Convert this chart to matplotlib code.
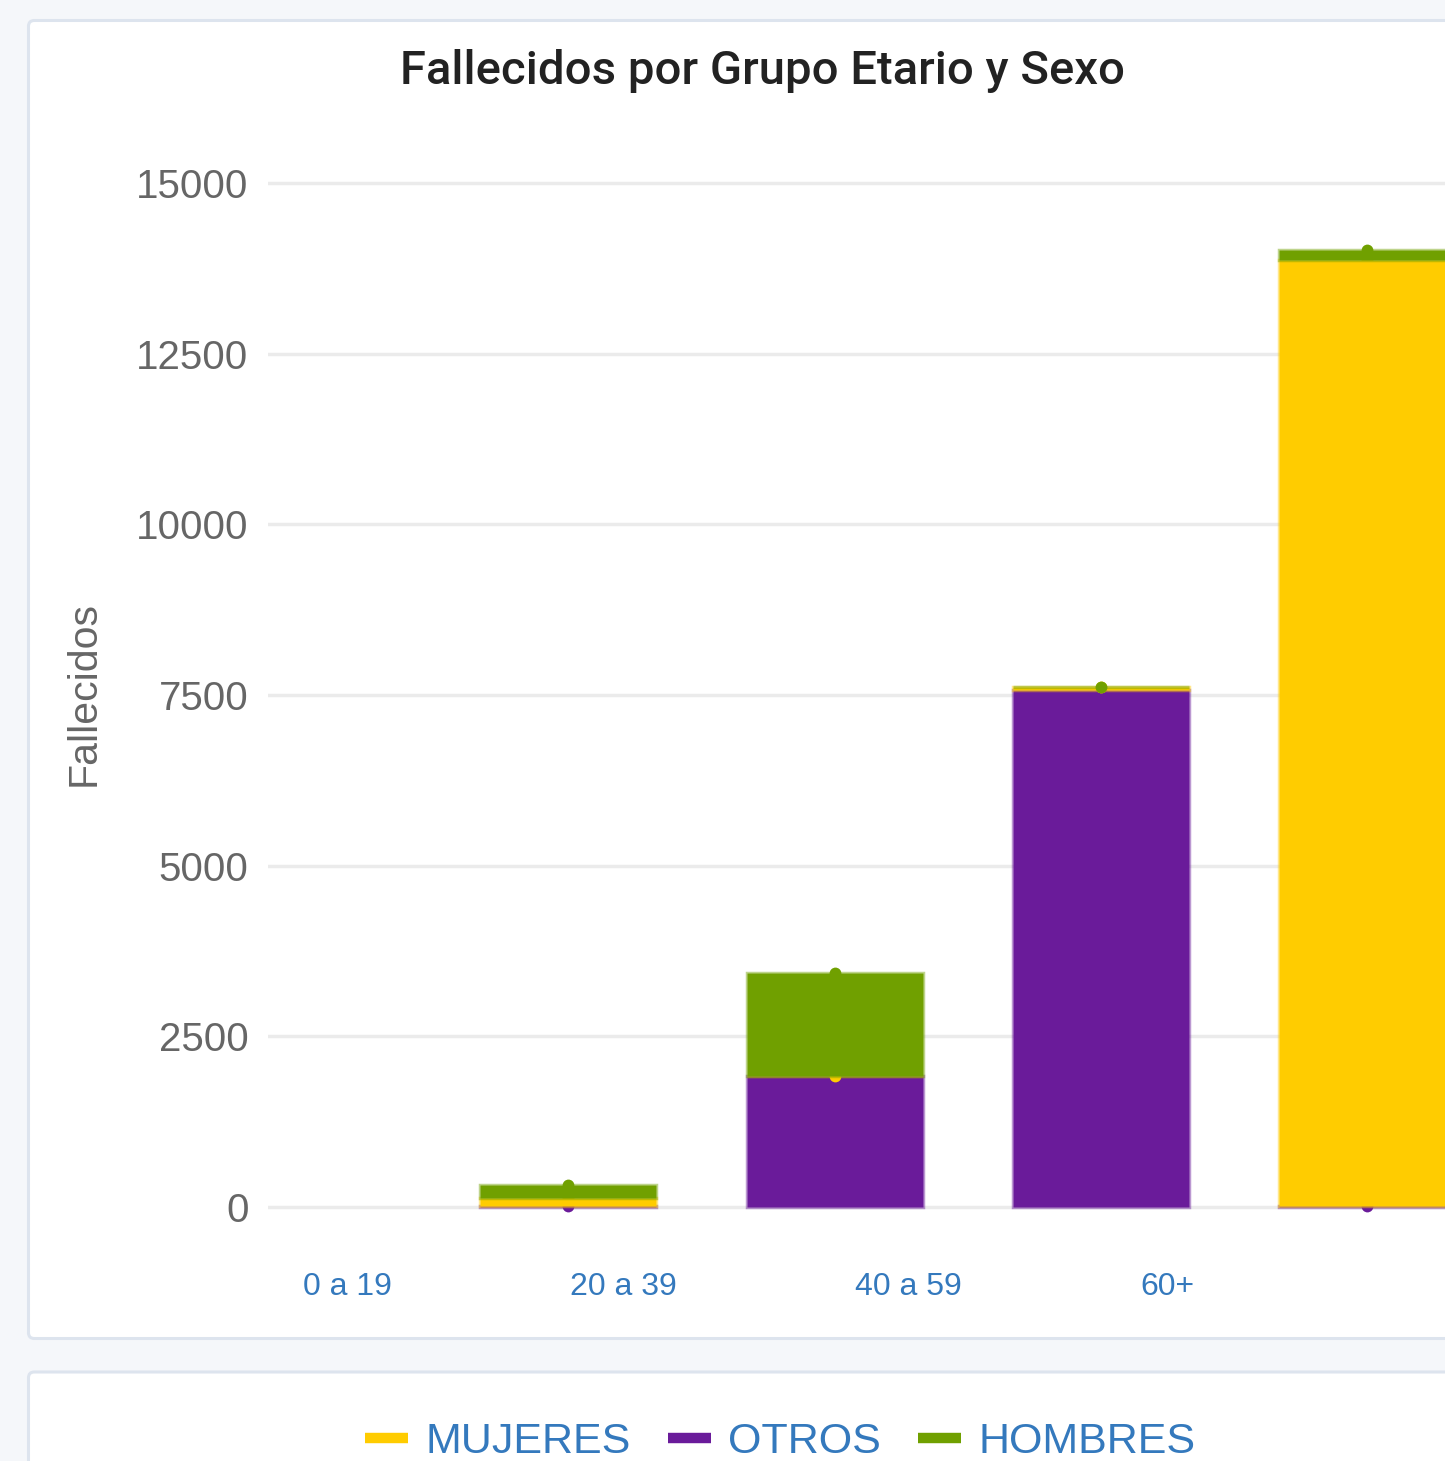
import matplotlib
matplotlib.use("Agg")
import matplotlib.pyplot as plt
from matplotlib import font_manager as fm
from matplotlib.patches import FancyBboxPatch
from matplotlib.lines import Line2D
from matplotlib.colors import to_rgba

# ---------------- data ----------------
title = "Fallecidos por Grupo Etario y Sexo"
y_label = "Fallecidos"
x_labels = ["0 a 19", "20 a 39", "40 a 59", "60+"]
series_names = ["MUJERES", "OTROS", "HOMBRES"]
bar_slots = [1, 2, 3, 4]
otros = [20, 1915, 7570, 8]
mujeres = [110, 5, 40, 13860]
hombres = [190, 1505, 5, 150]
y_ticks = [0, 2500, 5000, 7500, 10000, 12500, 15000]

# ---------------- style ----------------
C_MUJ = "#ffcc00"
C_OTR = "#6a1b9a"
C_HOM = "#70a000"
BG = "#f5f7fa"
CARD_EDGE = "#dde4ee"
GRID = "#ebebeb"
TICK_GRAY = "#666666"
BLUE = "#3479bd"

names = {f.name for f in fm.fontManager.ttflist}
NARROW = "Liberation Sans Narrow" if "Liberation Sans Narrow" in names else "Liberation Sans"
TITLE_FONT = "Roboto" if "Roboto" in names else "DejaVu Sans"

W, H = 1445, 1461
fig = plt.figure(figsize=(W / 100, H / 100), dpi=100)
fig.patch.set_facecolor(BG)

def fx(px):
    return px / W

def fy(py):
    return 1 - py / H

# cards
card1 = FancyBboxPatch((fx(28.5), fy(1338.5)), fx(1500) - fx(28.5), fy(20.5) - fy(1338.5),
                       boxstyle="round,pad=0,rounding_size=0.004", transform=fig.transFigure,
                       facecolor="white", edgecolor=CARD_EDGE, linewidth=2.2, zorder=-5)
card2 = FancyBboxPatch((fx(28.5), fy(1520)), fx(1500) - fx(28.5), fy(1372) - fy(1520),
                       boxstyle="round,pad=0,rounding_size=0.004", transform=fig.transFigure,
                       facecolor="white", edgecolor=CARD_EDGE, linewidth=2.2, zorder=-5)
fig.patches.extend([card1, card2])

# axes geometry (pixel mapping)
x0_px, slot_px = 302.0, 266.3
ax_left_px, ax_right_px = 268.0, 1530.0
ax_top_px, ax_bot_px = 160.0, 1230.0
zero_px, top_px = 1207.0, 183.0
upp = 15000 / (zero_px - top_px)

ax = fig.add_axes([fx(ax_left_px), fy(ax_bot_px),
                   fx(ax_right_px) - fx(ax_left_px), fy(ax_top_px) - fy(ax_bot_px)])
ax.set_zorder(2)
ax.set_facecolor("none")
ax.set_xlim((ax_left_px - x0_px) / slot_px, (ax_right_px - x0_px) / slot_px)
ax.set_ylim(-(ax_bot_px - zero_px) * upp, 15000 + (top_px - ax_top_px) * upp)
for s in ax.spines.values():
    s.set_visible(False)

ax.set_yticks(y_ticks)
ax.set_yticklabels([str(v) for v in y_ticks], fontsize=29, color=TICK_GRAY,
                   fontfamily="Liberation Sans")
ax.tick_params(axis="y", length=0, pad=14)
ax.grid(axis="y", color=GRID, linewidth=2.5, zorder=0)
ax.set_axisbelow(True)

tick_pos = [(p - x0_px) / slot_px for p in (347.5, 623, 908, 1167)]
ax.set_xticks(tick_pos)
ax.set_xticklabels(x_labels, fontsize=23, color=BLUE, fontfamily=NARROW)
ax.tick_params(axis="x", length=0, pad=30)

ax.set_ylabel(y_label, fontsize=29.5, color=TICK_GRAY, fontfamily="Liberation Sans", va="center")
ax.yaxis.set_label_coords((84 - ax_left_px) / (ax_right_px - ax_left_px),
                          (ax_bot_px - 694) / (ax_bot_px - ax_top_px))

width = 176 / slot_px
stack = [(otros, C_OTR), (mujeres, C_MUJ), (hombres, C_HOM)]
bottom = [0] * len(bar_slots)
z = 2
for vals, col in stack:
    ax.bar(bar_slots, vals, width=width, bottom=bottom, color=col,
           edgecolor=to_rgba(col, 0.45), linewidth=2.5, zorder=z)
    tops = [b + v for b, v in zip(bottom, vals)]
    ax.plot(bar_slots, tops, linestyle="none", marker="o", markersize=8.5,
            color=col, markeredgewidth=0, zorder=z + 1, clip_on=False)
    bottom = tops
    z += 2

fig.text(fx(763), fy(71), title, ha="center", va="center", fontsize=34,
         color="#222222", fontfamily=TITLE_FONT, fontweight="medium")

handles = [Line2D([], [], color=c, linewidth=7.5, solid_capstyle="butt")
           for c in (C_MUJ, C_OTR, C_HOM)]
leg = fig.legend(handles, series_names, loc="center", bbox_to_anchor=(fx(780), fy(1442)),
                 ncol=3, frameon=False, handlelength=1.0, handletextpad=0.4,
                 columnspacing=0.86, borderpad=0.1, prop={"family": NARROW, "size": 31})
for t in leg.get_texts():
    t.set_color(BLUE)

fig.savefig("out.png", dpi=100, facecolor=BG)
